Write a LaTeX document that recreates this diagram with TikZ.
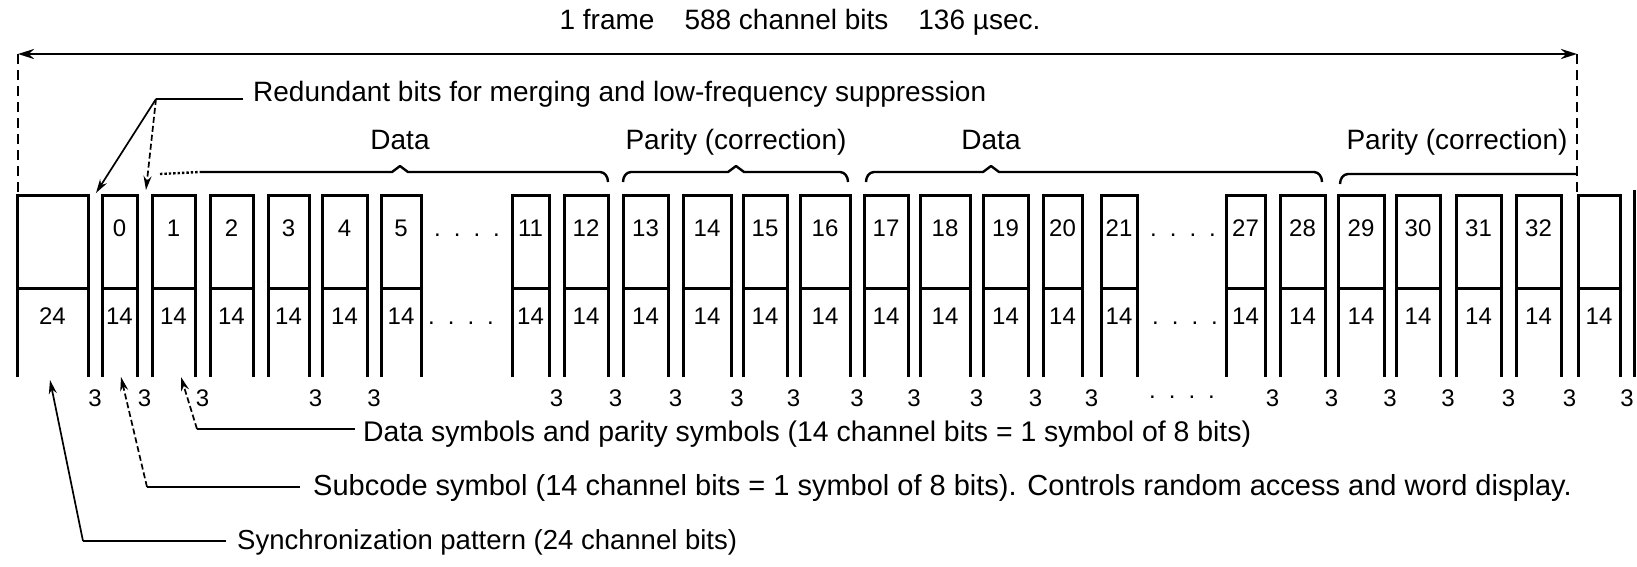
\documentclass[tikz,border=0pt]{standalone}
\usepackage{fontspec}
\setmainfont{Liberation Sans}
\usetikzlibrary{arrows.meta}
\begin{document}
\begin{tikzpicture}[x=1pt,y=-1pt,
  boxline/.style={line width=3pt},
  txt/.style={font=\fontsize{28}{30}\selectfont, inner sep=0pt},
  num/.style={font=\fontsize{24}{28}\selectfont, inner sep=0pt},
  lead/.style={line width=1.7pt},
  dashlead/.style={line width=1.7pt, dash pattern=on 6pt off 3pt},
  tipA/.style={-{Stealth[length=14pt,width=8pt]}},
  brc/.style={line width=2.4pt, line join=round},
  arr/.style={line width=2.8pt, {Stealth[length=16pt,width=10pt]}-{Stealth[length=16pt,width=10pt]}},
  vdash/.style={line width=2.2pt, dash pattern=on 10pt off 6pt}
]
\useasboundingbox (0,0) rectangle (1637,566);

% title and frame arrow
\node[txt, anchor=base] (title) at (800,29) {1 frame\hspace{30pt}588 channel bits\hspace{30pt}136 µsec.};
\coordinate (fL) at (18,54);
\coordinate (fR) at (1577,54);
\coordinate (fLb) at (18,195);
\coordinate (fRb) at (1577,195);
\draw[arr] (fL) -- (fR);
\draw[vdash] (fL) -- (fLb);
\draw[vdash] (fR) -- (fRb);

% boxes
\foreach \l/\r/\n/\m [count=\i] in {17/88/{}/24, 102/137/0/14, 152/195/1/14, 210/253/2/14, 268/309/3/14, 322/367/4/14, 381/421/5/14, 512/549/11/14, 564/608/12/14, 623/668/13/14, 683/731/14/14, 743/787/15/14, 800/850/16/14, 864/908/17/14, 920/970/18/14, 983/1028/19/14, 1043/1082/20/14, 1101/1137/21/14, 1226/1265/27/14, 1280/1325/28/14, 1338/1384/29/14, 1396/1440/30/14, 1456/1501/31/14, 1516/1561/32/14, 1578/1620/{}/14} {
  \draw[boxline] (\l,377) -- (\l,195) -- (\r,195) -- (\r,377);
  \draw[boxline] (\l,288) -- (\r,288);
  \node[num] (sym\i) at ({(\l+\r)/2},228) {\n};
  \node[num] (bits\i) at ({(\l+\r)/2},316) {\m};
}
\draw[boxline] (1634,190) -- (1634,377);

% ellipses
\node[num, anchor=base] (dA) at (467,236) {.\hspace{13pt}.\hspace{13pt}.\hspace{13pt}.};
\node[num, anchor=base] (dB) at (461,324) {.\hspace{13pt}.\hspace{13pt}.\hspace{13pt}.};
\node[num, anchor=base] (dC) at (1183,236) {.\hspace{13pt}.\hspace{13pt}.\hspace{13pt}.};
\node[num, anchor=base] (dD) at (1185,324) {.\hspace{13pt}.\hspace{13pt}.\hspace{13pt}.};
\node[num, anchor=base] (dE) at (1182,398) {.\hspace{13pt}.\hspace{13pt}.\hspace{13pt}.};

% merging bits
\foreach \x [count=\i] in {95,144.5,202.5,315.5,374,556.5,615.5,675.5,737,793.5,857,914,976.5,1035.5,1091.5,1272.5,1331.5,1390,1448,1508.5,1569.5,1627}
  \node[num] (gap\i) at (\x,398) {3};

% braces and labels
\node[txt, anchor=base] (lData1) at (400,149) {Data};
\node[txt, anchor=base] (lPar1) at (736,149) {Parity (correction)};
\node[txt, anchor=base] (lData2) at (991,149) {Data};
\node[txt, anchor=base] (lPar2) at (1457,149) {Parity (correction)};
\draw[brc, dotted] (160,174) -- (200,172);
\draw[brc] (200,172) -- (392,172) -- (400,166) -- (408,172) -- (600,172) to[out=0,in=90] (608,182);
\draw[brc] (623,182) to[out=90,in=180] (631,172) -- (728,172) -- (736,166) -- (744,172) -- (840,172) to[out=0,in=90] (848,182);
\draw[brc] (866,182) to[out=90,in=180] (874,172) -- (983,172) -- (991,166) -- (999,172) -- (1314,172) to[out=0,in=90] (1322,182);
\draw[brc] (1340,184) to[out=90,in=180] (1348,174) -- (1577,174);

% redundant bits
\node[txt, anchor=base west] (red) at (253,101) {Redundant bits for merging and low-frequency suppression};
\coordinate (rS) at (243,99);
\coordinate (rC) at (156,99);
\coordinate (rT1) at (96,193);
\coordinate (rT2) at (146,190);
\draw[lead] (rS) -- (rC);
\draw[lead, tipA] (rC) -- (rT1);
\draw[dashlead, tipA] (rC) -- (rT2);

% bottom legends
\node[txt, anchor=base west, font=\fontsize{28.4}{30}\selectfont] (dsym) at (363,441) {Data symbols and parity symbols (14 channel bits = 1 symbol of 8 bits)};
\coordinate (dS) at (355,429);
\coordinate (dCn) at (197,429);
\coordinate (dT) at (181,377);
\draw[lead] (dS) -- (dCn);
\draw[dashlead, tipA] (dCn) -- (dT);

\node[txt, anchor=base west, font=\fontsize{29}{30}\selectfont] (sub) at (313,495) {Subcode symbol (14 channel bits = 1 symbol of 8 bits). Controls random access and word display.};
\coordinate (sS) at (300,487);
\coordinate (sC) at (147,487);
\coordinate (sT) at (121,377);
\draw[lead] (sS) -- (sC);
\draw[dashlead, tipA] (sC) -- (sT);

\node[txt, anchor=base west, font=\fontsize{27.5}{30}\selectfont] (syn) at (237,549) {Synchronization pattern (24 channel bits)};
\coordinate (yS) at (226,541);
\coordinate (yC) at (83,541);
\coordinate (yT) at (50,380);
\draw[lead] (yS) -- (yC);
\draw[lead, tipA] (yC) -- (yT);
\end{tikzpicture}
\end{document}
